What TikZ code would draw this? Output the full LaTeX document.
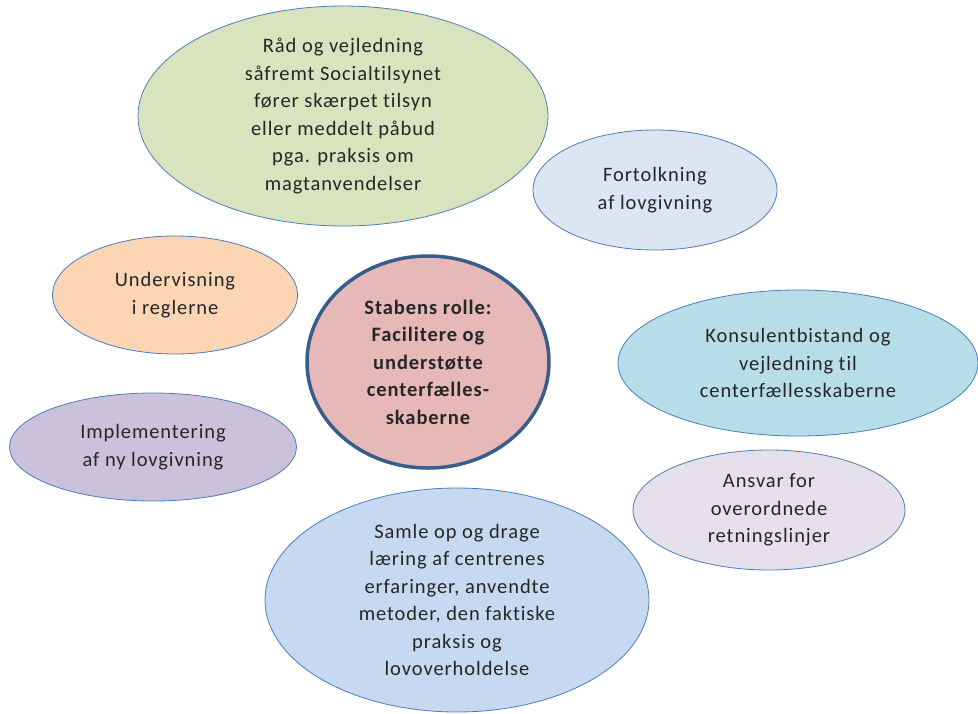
\documentclass[tikz,border=0pt]{standalone}
\usepackage{fontspec}
\setmainfont{Carlito}
\newfontfamily\diagfont[LetterSpace=4.5,Ligatures=NoCommon]{Carlito}
\usepackage{tikz}
\usetikzlibrary{calc, shapes}
\usetikzlibrary{shapes.geometric,positioning,fit}

\definecolor{rim}{HTML}{4A7EBB}
\definecolor{rimdark}{HTML}{385D8A}
\definecolor{cgreen}{HTML}{D7E4BD}
\definecolor{cpaleblue}{HTML}{DCE6F2}
\definecolor{corange}{HTML}{FCD5B5}
\definecolor{crose}{HTML}{E6B9B8}
\definecolor{caqua}{HTML}{B7DEE8}
\definecolor{cviolet}{HTML}{CCC1DA}
\definecolor{clilac}{HTML}{E6E0EC}
\definecolor{cblue}{HTML}{C6D9F1}

\begin{document}
\begin{tikzpicture}[x=1pt, y=-1pt,
	task/.style={ellipse, draw=rim, line width=0.8pt, inner sep=0pt,
		align=center, text=black!85, font=\diagfont\fontsize{20.5}{27.5}\selectfont},
	hub/.style={task, draw=rimdark, line width=3.5pt, font=\diagfont\fontsize{20.5}{27.5}\selectfont\bfseries}]
\useasboundingbox (0,0) rectangle (978,713);

\node[task, fill=cgreen, minimum width=410pt, minimum height=212pt] (raad) at (343,116)
	{Råd og vejledning\\såfremt Socialtilsynet\\fører skærpet tilsyn\\eller meddelt påbud\\pga. praksis om\\magtanvendelser};
\node[task, fill=cpaleblue, minimum width=244pt, minimum height=120pt] (fortolk) at (655,190)
	{Fortolkning\\af lovgivning};
\node[task, fill=corange, minimum width=245pt, minimum height=118pt] (underv) at (175,295)
	{Undervisning\\i reglerne};
\node[task, fill=cviolet, minimum width=287pt, minimum height=108pt] (implem) at (153,447)
	{Implementering\\af ny lovgivning};
\node[task, fill=caqua, minimum width=360pt, minimum height=146pt] (konsul) at (798,363)
	{Konsulentbistand og\\vejledning til\\centerfællesskaberne};
\node[task, fill=clilac, minimum width=272pt, minimum height=120pt] (ansvar) at (769,510)
	{Ansvar for\\overordnede\\retningslinjer};
\node[task, fill=cblue, minimum width=384pt, minimum height=224pt] (samle) at (457,600)
	{Samle op og drage\\læring af centrenes\\erfaringer, anvendte\\metoder, den faktiske\\praksis og\\lovoverholdelse};

\node[hub, fill=crose, minimum width=242pt, minimum height=212pt] (stab) at (428,362)
	{Stabens rolle:\\Facilitere og\\understøtte\\centerfælles-\\skaberne};

\end{tikzpicture}
\end{document}
